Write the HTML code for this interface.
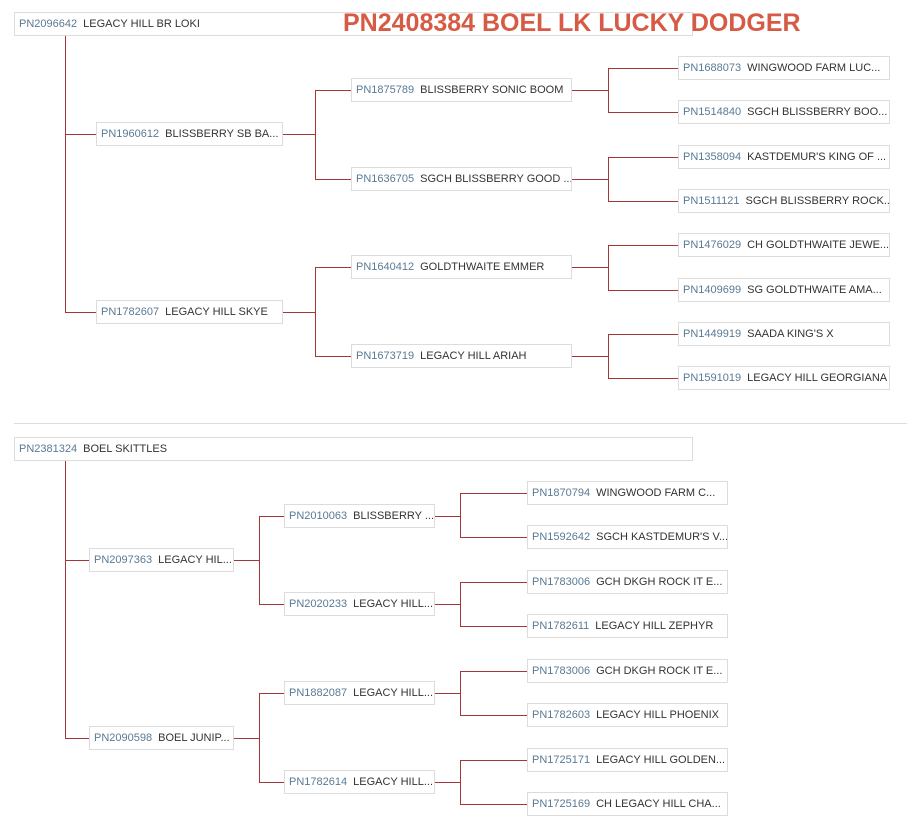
<!DOCTYPE html>
<html><head><meta charset="utf-8"><style>
body{margin:0;width:907px;height:829px;background:#fff;position:relative;overflow:hidden;font-family:"Liberation Sans",sans-serif}
.b{position:absolute;height:24px;border:1px solid #dcdcdc;box-sizing:border-box;background:#fff;font-size:11px;line-height:23px;padding-left:4px;color:#333;white-space:nowrap;overflow:hidden}
.b i{font-style:normal;color:#5a7a94;margin-right:6px}
.h,.v{position:absolute;background:#a33636}
.h{height:1px}.v{width:1px}
.t{position:absolute;left:343px;top:9px;font-size:25px;font-weight:bold;color:#d65a44;white-space:nowrap;letter-spacing:0px}
.sep{position:absolute;left:14px;right:0;top:423px;height:1px;background:#ddd}
</style></head><body>
<div class="b" style="left:14px;top:12px;width:679px;height:24px"><i>PN2096642</i>LEGACY HILL BR LOKI</div>
<div class="t">PN2408384 BOEL LK LUCKY DODGER</div>
<div class="v" style="left:65px;top:36px;height:277px"></div>
<div class="h" style="left:65px;top:134px;width:31px"></div>
<div class="h" style="left:65px;top:312px;width:31px"></div>
<div class="b" style="left:96px;top:122px;width:187px"><i>PN1960612</i>BLISSBERRY SB BA...</div>
<div class="b" style="left:96px;top:300px;width:187px"><i>PN1782607</i>LEGACY HILL SKYE</div>
<div class="h" style="left:283px;top:134px;width:32px"></div>
<div class="h" style="left:283px;top:312px;width:32px"></div>
<div class="v" style="left:315px;top:90px;height:90px"></div>
<div class="v" style="left:315px;top:267px;height:90px"></div>
<div class="h" style="left:315px;top:90px;width:36px"></div>
<div class="h" style="left:315px;top:179px;width:36px"></div>
<div class="h" style="left:315px;top:267px;width:36px"></div>
<div class="h" style="left:315px;top:356px;width:36px"></div>
<div class="b" style="left:351px;top:78px;width:221px"><i>PN1875789</i>BLISSBERRY SONIC BOOM</div>
<div class="b" style="left:351px;top:167px;width:221px"><i>PN1636705</i>SGCH BLISSBERRY GOOD ...</div>
<div class="b" style="left:351px;top:255px;width:221px"><i>PN1640412</i>GOLDTHWAITE EMMER</div>
<div class="b" style="left:351px;top:344px;width:221px"><i>PN1673719</i>LEGACY HILL ARIAH</div>
<div class="h" style="left:572px;top:90px;width:36px"></div>
<div class="h" style="left:572px;top:179px;width:36px"></div>
<div class="h" style="left:572px;top:267px;width:36px"></div>
<div class="h" style="left:572px;top:356px;width:36px"></div>
<div class="v" style="left:608px;top:68px;height:45px"></div>
<div class="v" style="left:608px;top:157px;height:45px"></div>
<div class="v" style="left:608px;top:245px;height:46px"></div>
<div class="v" style="left:608px;top:334px;height:45px"></div>
<div class="h" style="left:608px;top:68px;width:70px"></div>
<div class="h" style="left:608px;top:112px;width:70px"></div>
<div class="h" style="left:608px;top:157px;width:70px"></div>
<div class="h" style="left:608px;top:201px;width:70px"></div>
<div class="h" style="left:608px;top:245px;width:70px"></div>
<div class="h" style="left:608px;top:290px;width:70px"></div>
<div class="h" style="left:608px;top:334px;width:70px"></div>
<div class="h" style="left:608px;top:378px;width:70px"></div>
<div class="b" style="left:678px;top:56px;width:212px"><i>PN1688073</i>WINGWOOD FARM LUC...</div>
<div class="b" style="left:678px;top:100px;width:212px"><i>PN1514840</i>SGCH BLISSBERRY BOO...</div>
<div class="b" style="left:678px;top:145px;width:212px"><i>PN1358094</i>KASTDEMUR'S KING OF ...</div>
<div class="b" style="left:678px;top:189px;width:212px"><i>PN1511121</i>SGCH BLISSBERRY ROCK...</div>
<div class="b" style="left:678px;top:233px;width:212px"><i>PN1476029</i>CH GOLDTHWAITE JEWE...</div>
<div class="b" style="left:678px;top:278px;width:212px"><i>PN1409699</i>SG GOLDTHWAITE AMA...</div>
<div class="b" style="left:678px;top:322px;width:212px"><i>PN1449919</i>SAADA KING'S X</div>
<div class="b" style="left:678px;top:366px;width:212px"><i>PN1591019</i>LEGACY HILL GEORGIANA</div>

<div class="sep"></div>

<div class="b" style="left:14px;top:437px;width:679px"><i>PN2381324</i>BOEL SKITTLES</div>
<div class="v" style="left:65px;top:461px;height:278px"></div>
<div class="h" style="left:65px;top:560px;width:24px"></div>
<div class="h" style="left:65px;top:738px;width:24px"></div>
<div class="b" style="left:89px;top:548px;width:145px"><i>PN2097363</i>LEGACY HIL...</div>
<div class="b" style="left:89px;top:726px;width:145px"><i>PN2090598</i>BOEL JUNIP...</div>
<div class="h" style="left:234px;top:560px;width:25px"></div>
<div class="h" style="left:234px;top:738px;width:25px"></div>
<div class="v" style="left:259px;top:516px;height:89px"></div>
<div class="v" style="left:259px;top:693px;height:90px"></div>
<div class="h" style="left:259px;top:516px;width:25px"></div>
<div class="h" style="left:259px;top:604px;width:25px"></div>
<div class="h" style="left:259px;top:693px;width:25px"></div>
<div class="h" style="left:259px;top:782px;width:25px"></div>
<div class="b" style="left:284px;top:504px;width:151px"><i>PN2010063</i>BLISSBERRY ...</div>
<div class="b" style="left:284px;top:592px;width:151px"><i>PN2020233</i>LEGACY HILL...</div>
<div class="b" style="left:284px;top:681px;width:151px"><i>PN1882087</i>LEGACY HILL...</div>
<div class="b" style="left:284px;top:770px;width:151px"><i>PN1782614</i>LEGACY HILL...</div>
<div class="h" style="left:435px;top:516px;width:25px"></div>
<div class="h" style="left:435px;top:604px;width:25px"></div>
<div class="h" style="left:435px;top:693px;width:25px"></div>
<div class="h" style="left:435px;top:782px;width:25px"></div>
<div class="v" style="left:460px;top:493px;height:45px"></div>
<div class="v" style="left:460px;top:582px;height:45px"></div>
<div class="v" style="left:460px;top:671px;height:45px"></div>
<div class="v" style="left:460px;top:760px;height:45px"></div>
<div class="h" style="left:460px;top:493px;width:67px"></div>
<div class="h" style="left:460px;top:537px;width:67px"></div>
<div class="h" style="left:460px;top:582px;width:67px"></div>
<div class="h" style="left:460px;top:626px;width:67px"></div>
<div class="h" style="left:460px;top:671px;width:67px"></div>
<div class="h" style="left:460px;top:715px;width:67px"></div>
<div class="h" style="left:460px;top:760px;width:67px"></div>
<div class="h" style="left:460px;top:804px;width:67px"></div>
<div class="b" style="left:527px;top:481px;width:201px"><i>PN1870794</i>WINGWOOD FARM C...</div>
<div class="b" style="left:527px;top:525px;width:201px"><i>PN1592642</i>SGCH KASTDEMUR'S V...</div>
<div class="b" style="left:527px;top:570px;width:201px"><i>PN1783006</i>GCH DKGH ROCK IT E...</div>
<div class="b" style="left:527px;top:614px;width:201px"><i>PN1782611</i>LEGACY HILL ZEPHYR</div>
<div class="b" style="left:527px;top:659px;width:201px"><i>PN1783006</i>GCH DKGH ROCK IT E...</div>
<div class="b" style="left:527px;top:703px;width:201px"><i>PN1782603</i>LEGACY HILL PHOENIX</div>
<div class="b" style="left:527px;top:748px;width:201px"><i>PN1725171</i>LEGACY HILL GOLDEN...</div>
<div class="b" style="left:527px;top:792px;width:201px"><i>PN1725169</i>CH LEGACY HILL CHA...</div>
</body></html>
